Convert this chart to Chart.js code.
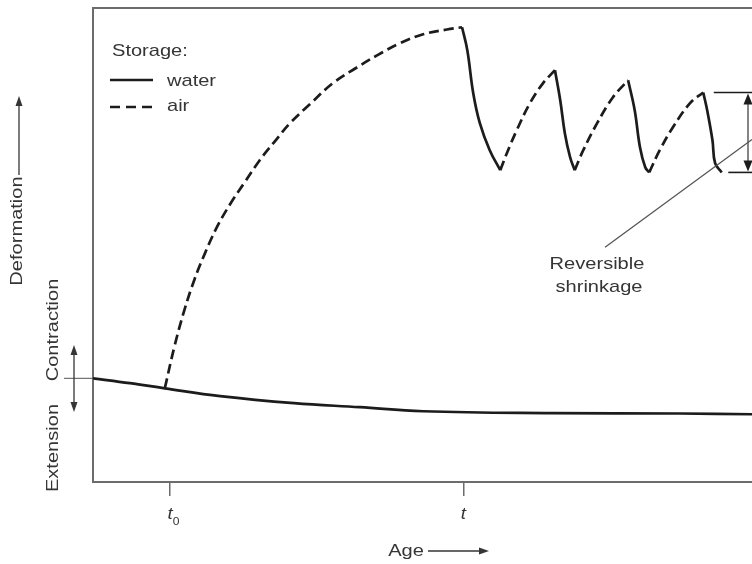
<!DOCTYPE html>
<html>
<head>
<meta charset="utf-8">
<script src="https://cdn.jsdelivr.net/npm/chart.js@4.4.1/dist/chart.umd.min.js"></script>
<style>
  html, body { margin: 0; padding: 0; background: #fff; }
  #wrap { width: 752px; height: 564px; }
</style>
</head>
<body>
<div id="wrap"><canvas id="c" width="752" height="564"></canvas></div>
<script>
// Age runs 0..100 (arbitrary units), deformation -28..100 (0 = initial length,
// positive = contraction / shrinkage).
const tickAges = [11.7, 56.2];          // t0 = start of drying, t = first re-wetting
const tickLabels = ['t', 't'];
const tickSubs = ['0', ''];

// specimen kept in water the whole time
const waterAge = [0, 5.6, 10.9, 19.3, 30.5, 40.5, 50.1, 69.5, 89.1, 100];
const waterDef = [0, -1.3, -2.7, -4.8, -6.7, -7.8, -8.9, -9.4, -9.5, -9.7];

// specimen dried in air from t0 to t, then alternately wetted and dried
const dry1Age = [10.9, 12.4, 13.9, 15.4, 17.0, 18.8, 20.8, 23.0, 25.3, 27.6, 29.9, 32.9, 36.4, 40.1, 43.1, 46.6, 50.1, 53.7, 56.0];
const dry1Def = [-2.7, 8.9, 18.6, 26.7, 33.8, 40.8, 47.0, 52.9, 58.9, 64.0, 68.9, 74.0, 79.7, 84.0, 87.2, 90.5, 92.9, 94.2, 94.8];
const wet1Age = [56.0, 56.8, 57.7, 58.7, 60.2, 61.8];
const wet1Def = [94.8, 88.6, 77.0, 68.9, 61.6, 56.2];
const dry2Age = [61.8, 62.8, 64.3, 66.3, 68.3, 70.1];
const dry2Def = [56.2, 60.8, 67.0, 74.3, 79.7, 83.2];
const wet2Age = [70.1, 70.9, 71.6, 72.4, 73.1];
const wet2Def = [83.2, 75.1, 66.2, 59.7, 56.2];
const dry3Age = [73.1, 74.4, 76.5, 78.9, 81.2];
const dry3Def = [56.2, 61.6, 68.9, 75.9, 80.5];
const wet3Age = [81.2, 82.2, 83.0, 83.8, 84.4];
const wet3Def = [80.5, 72.4, 62.4, 57.0, 55.6];
const dry4Age = [84.4, 86.0, 88.0, 90.6, 92.6];
const dry4Def = [55.6, 61.6, 67.8, 74.3, 77.2];
const wet4Age = [92.6, 93.2, 94.0, 94.4, 95.4];
const wet4Def = [77.2, 72.4, 64.3, 58.1, 55.6];

const phases = [
  ['water', waterAge, waterDef],
  ['air', dry1Age, dry1Def],
  ['water', wet1Age, wet1Def],
  ['air', dry2Age, dry2Def],
  ['water', wet2Age, wet2Def],
  ['air', dry3Age, dry3Def],
  ['water', wet3Age, wet3Def],
  ['air', dry4Age, dry4Def],
  ['water', wet4Age, wet4Def]
];

const INK = '#1c1c1c';
const FRAME = '#6c6c6c';
const TEXT = '#353535';
const FONT = '"Liberation Sans", Arial, Helvetica, sans-serif';
const DASH = [10, 5];

const datasets = phases.map(([storage, ages, defs]) => ({
  label: storage,
  data: ages.map((a, i) => ({ x: a, y: defs[i] })),
  borderColor: INK,
  borderWidth: 2.7,
  borderDash: storage === 'air' ? DASH : [],
  tension: 0.4,
  pointRadius: 0,
  fill: false
}));

function text(ctx, s, x, y, o = {}) {
  const size = o.size || 17;
  ctx.save();
  ctx.translate(x, y);
  if (o.rot) ctx.rotate(o.rot);
  ctx.scale(o.stretch || 1.18, 1);
  ctx.font = (o.italic ? 'italic ' : '') + size + 'px ' + FONT;
  ctx.textAlign = o.align || 'center';
  ctx.textBaseline = 'middle';
  ctx.fillStyle = o.color || TEXT;
  ctx.fillText(s, 0, 0);
  ctx.restore();
}

function head(ctx, x, y, dir, w, h) {
  // filled arrow head with its tip at (x, y); dir: 'up' | 'down' | 'right'
  ctx.beginPath();
  if (dir === 'up') { ctx.moveTo(x, y); ctx.lineTo(x - w / 2, y + h); ctx.lineTo(x + w / 2, y + h); }
  if (dir === 'down') { ctx.moveTo(x, y); ctx.lineTo(x - w / 2, y - h); ctx.lineTo(x + w / 2, y - h); }
  if (dir === 'right') { ctx.moveTo(x, y); ctx.lineTo(x - h, y - w / 2); ctx.lineTo(x - h, y + w / 2); }
  ctx.closePath();
  ctx.fill();
}

function seg(ctx, x1, y1, x2, y2, color, width, dash) {
  ctx.save();
  ctx.strokeStyle = color;
  ctx.lineWidth = width;
  ctx.setLineDash(dash || []);
  ctx.beginPath();
  ctx.moveTo(x1, y1);
  ctx.lineTo(x2, y2);
  ctx.stroke();
  ctx.restore();
}

const decor = {
  id: 'decor',
  afterDraw(chart) {
    const { ctx, chartArea: ca, scales: { x, y } } = chart;

    // top edge of the frame
    seg(ctx, ca.left - 1, ca.top, ca.right, ca.top, FRAME, 2);

    // storage key
    text(ctx, 'Storage:', 112, 51, { align: 'left' });
    seg(ctx, 110, 80, 153, 80, INK, 2.7);
    text(ctx, 'water', 167, 81, { align: 'left' });
    seg(ctx, 110, 107, 153, 107, INK, 2.7, [10, 6]);
    text(ctx, 'air', 167, 106, { align: 'left' });

    // age tick labels
    tickAges.forEach((a, i) => {
      const px = x.getPixelForValue(a);
      text(ctx, tickLabels[i], px, 514, { italic: true, stretch: 1.1 });
      if (tickSubs[i]) text(ctx, tickSubs[i], px + 6, 522, { size: 11, stretch: 1.1 });
    });

    // horizontal axis caption
    text(ctx, 'Age', 406, 551);
    ctx.fillStyle = TEXT;
    seg(ctx, 428, 551, 482, 551, TEXT, 1.3);
    head(ctx, 489, 551, 'right', 7, 10);

    // vertical axis captions
    const up = -Math.PI / 2;
    text(ctx, 'Deformation', 17, 231, { rot: up });
    seg(ctx, 19, 175, 19, 104, TEXT, 1.3);
    ctx.fillStyle = TEXT;
    head(ctx, 19, 96, 'up', 7, 10);

    text(ctx, 'Contraction', 53, 330, { rot: up });
    text(ctx, 'Extension', 53, 448, { rot: up });

    const y0 = y.getPixelForValue(0);
    seg(ctx, 64, y0, ca.left, y0, '#555', 1);
    seg(ctx, 74, 352, 74, 406, TEXT, 1.3);
    ctx.fillStyle = TEXT;
    head(ctx, 74, 345, 'up', 7, 10);
    head(ctx, 74, 412, 'down', 7, 10);

    // reversible shrinkage bracket over the last cycle
    const yTop = y.getPixelForValue(dry4Def[dry4Def.length - 1]);
    const yBot = y.getPixelForValue(wet4Def[wet4Def.length - 1]);
    seg(ctx, x.getPixelForValue(94.2), yTop, ca.right, yTop, INK, 1.6);
    seg(ctx, x.getPixelForValue(96.4), yBot, ca.right, yBot, INK, 1.6);
    seg(ctx, 748, yTop + 8, 748, yBot - 8, '#444', 1.3);
    ctx.fillStyle = INK;
    head(ctx, 748, yTop + 1, 'up', 9, 11);
    head(ctx, 748, yBot - 1, 'down', 9, 11);

    // leader to the bracket
    seg(ctx, x.getPixelForValue(100), y.getPixelForValue(64.5),
        x.getPixelForValue(77.7), y.getPixelForValue(35.4), '#555', 1.3);
    text(ctx, 'Reversible', 597, 264);
    text(ctx, 'shrinkage', 599, 287);
  }
};

new Chart(document.getElementById('c'), {
  type: 'line',
  data: { datasets },
  options: {
    responsive: false,
    animation: false,
    events: [],
    layout: { padding: { left: 93, top: 8, right: 0, bottom: 68 } },
    plugins: { legend: { display: false }, tooltip: { enabled: false } },
    scales: {
      x: {
        type: 'linear',
        min: 0,
        max: 100,
        afterBuildTicks: (s) => { s.ticks = tickAges.map(v => ({ value: v })); },
        ticks: { display: false },
        grid: { display: true, drawOnChartArea: false, drawTicks: true, tickLength: 14, color: FRAME, lineWidth: 1.5 },
        border: { display: true, color: FRAME, width: 2 }
      },
      y: {
        type: 'linear',
        min: -28,
        max: 100,
        ticks: { display: false },
        grid: { display: false, drawTicks: false },
        border: { display: true, color: FRAME, width: 2 }
      }
    }
  },
  plugins: [decor]
});
</script>
</body>
</html>
